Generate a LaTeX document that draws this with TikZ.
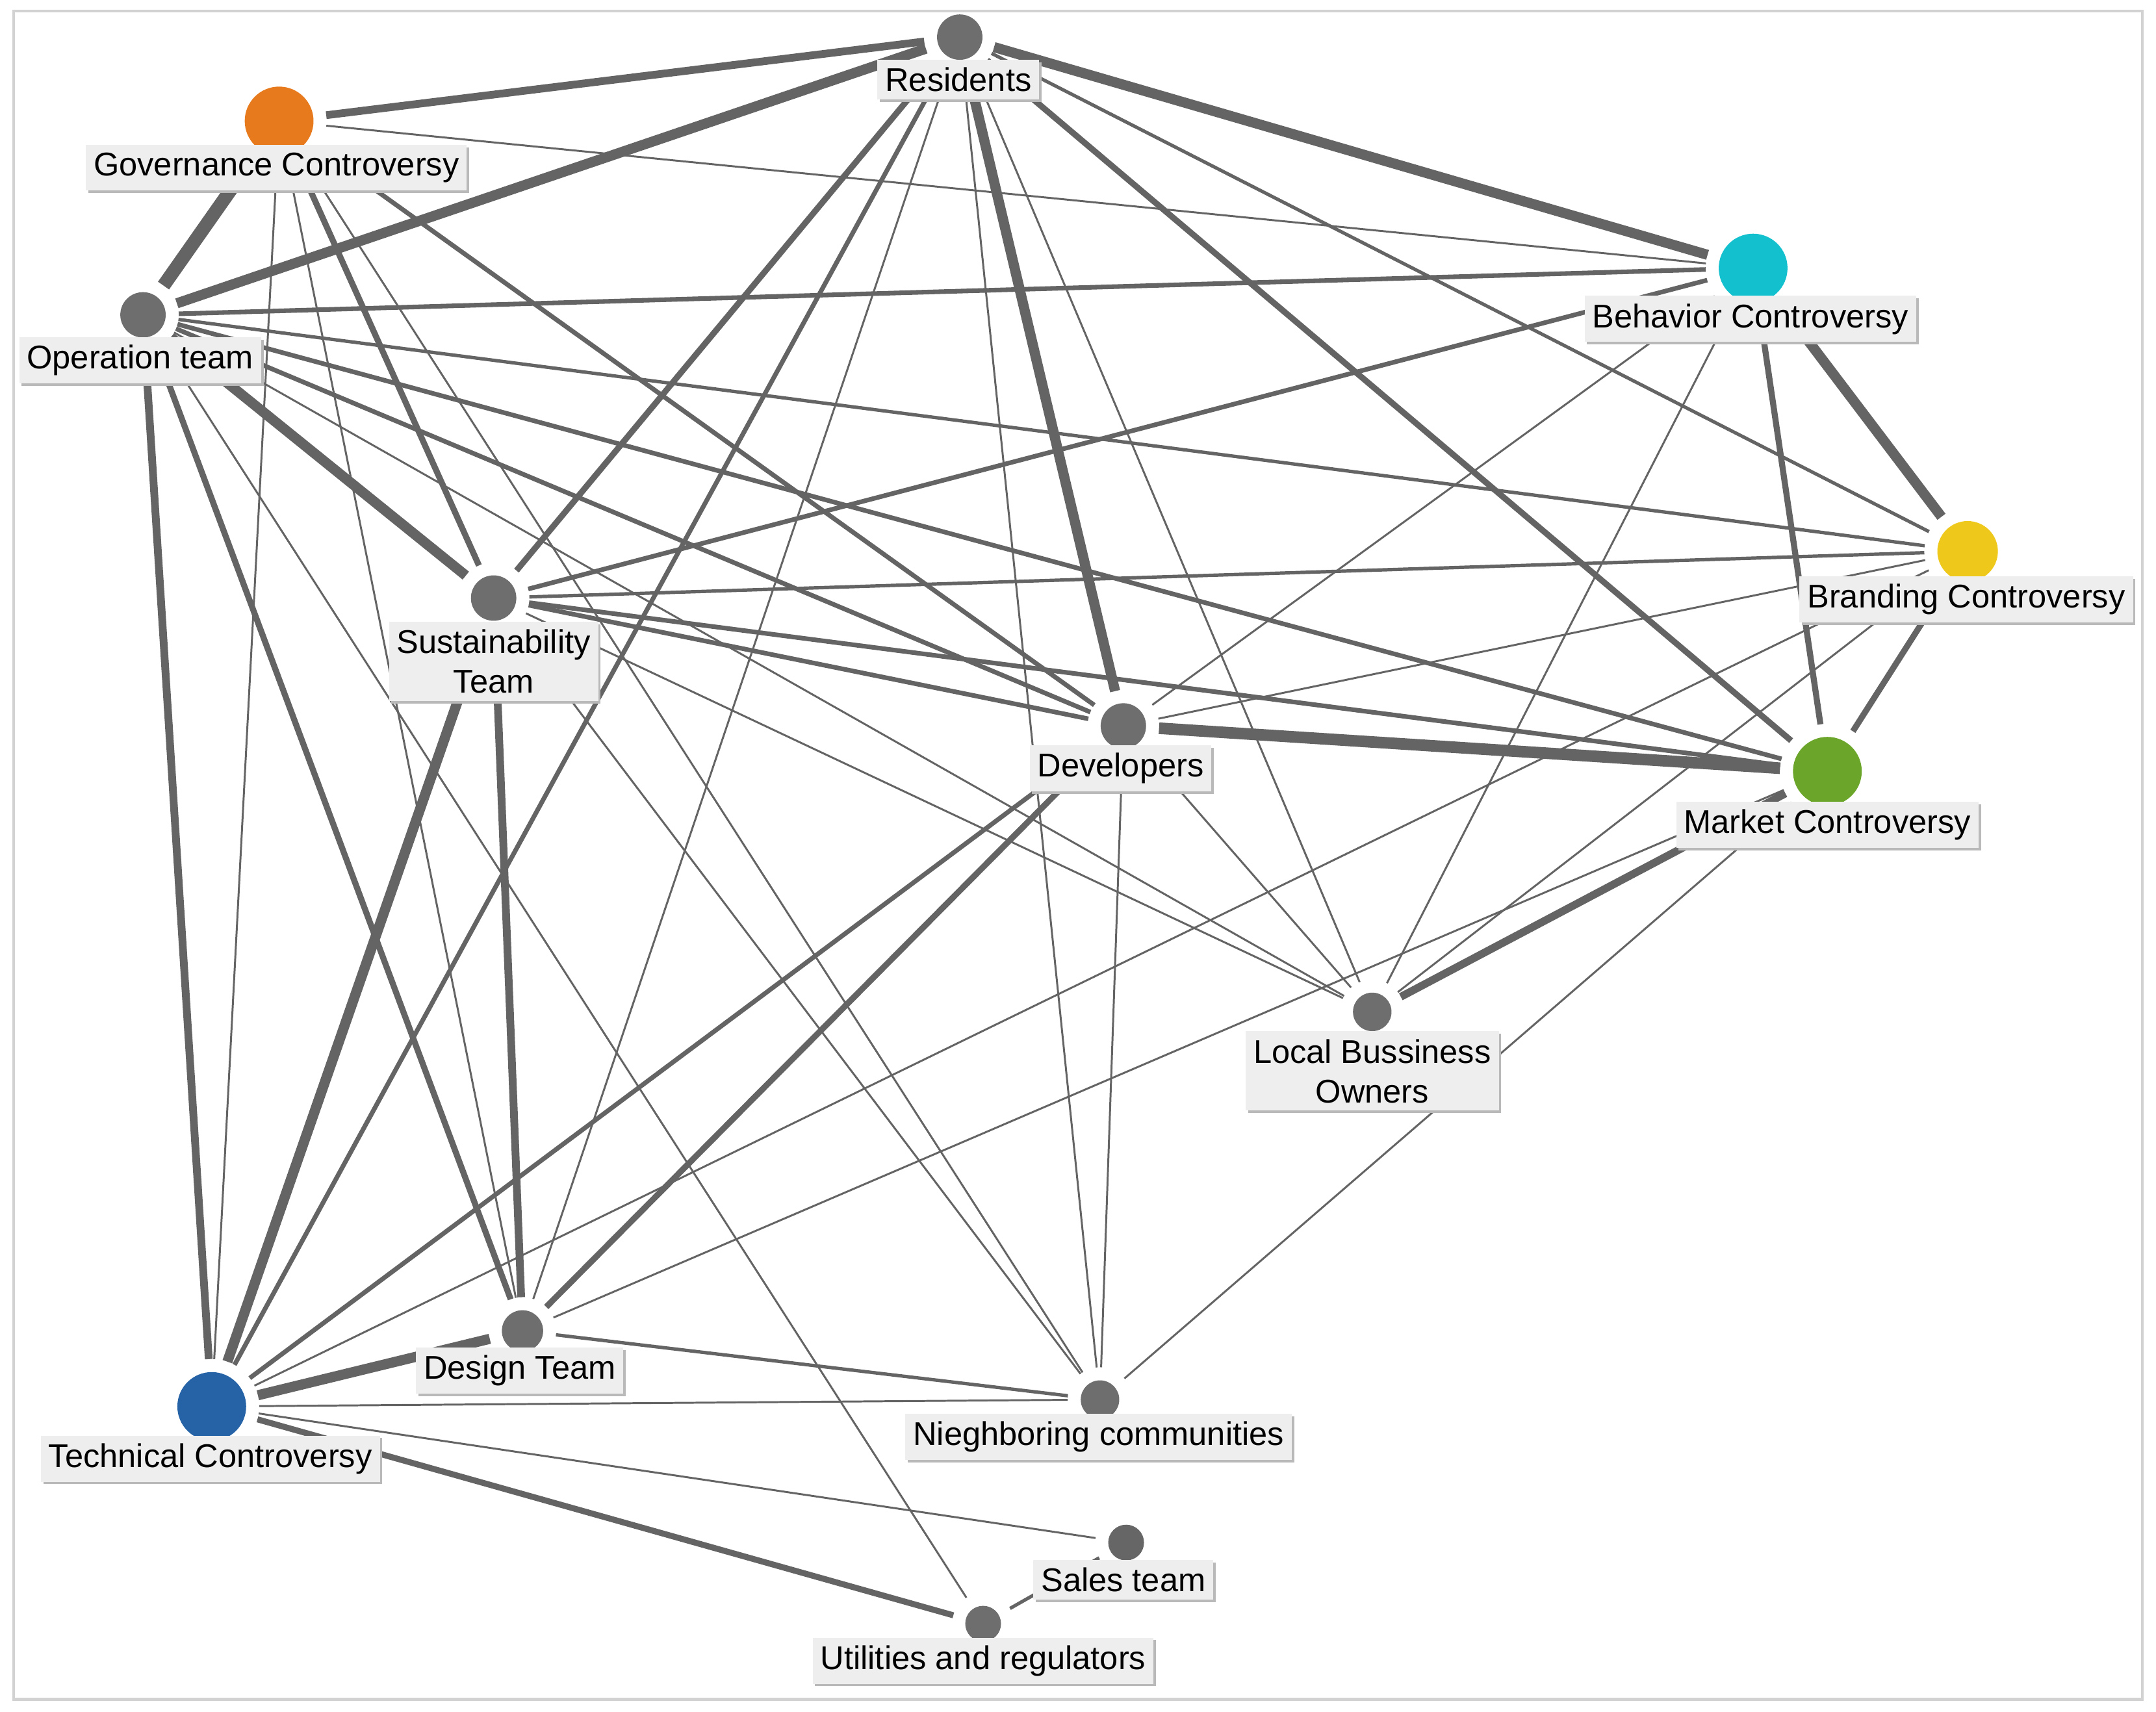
\documentclass[tikz,border=0pt]{standalone}
\usepackage{fontspec}
\setmainfont{Liberation Sans}
\usetikzlibrary{shadows}
\definecolor{eg}{HTML}{646464}
\definecolor{ng}{HTML}{6E6E6E}
\begin{document}
\begin{tikzpicture}[x=0.01cm,y=-0.01cm,
  dot/.style={circle,fill=ng,inner sep=0,minimum size=0.33cm},
  big/.style={circle,inner sep=0,minimum size=0.5cm},
  lab/.style={fill=gray!13,inner sep=1.6pt,align=center,font=\fontsize{6.8}{8.2}\selectfont,
     drop shadow={shadow xshift=0.5pt,shadow yshift=-0.5pt,fill=gray!55,opacity=1}},
  e/.style={draw=eg,shorten <=2.5pt,shorten >=2.5pt},
  t1/.style={e,line width=0.4pt},
  t2/.style={e,line width=0.7pt},
  t3/.style={e,line width=0.95pt},
  t4/.style={e,line width=1.25pt},
  t5/.style={e,line width=1.6pt},
  t6/.style={e,line width=2.1pt}]
\useasboundingbox (0,0) rectangle (1568,1245);
\draw[gray!35,line width=0.6pt] (10,8) rectangle (1558,1236);
% nodes
\node[dot] (res) at (698,27) {};
\node[big,fill={rgb,255:red,232;green,122;blue,30}] (gov) at (203,88) {};
\node[dot] (op) at (104,229) {};
\node[big,fill={rgb,255:red,18;green,192;blue,206}] (beh) at (1275,195) {};
\node[big,fill={rgb,255:red,239;green,200;blue,28},minimum size=0.44cm] (bra) at (1431,401) {};
\node[dot] (sus) at (359,435) {};
\node[dot] (dev) at (817,528) {};
\node[big,fill={rgb,255:red,107;green,166;blue,42}] (mar) at (1329,561) {};
\node[dot,minimum size=0.28cm] (loc) at (998,736) {};
\node[dot,minimum size=0.3cm] (des) at (380,968) {};
\node[dot,minimum size=0.28cm] (nei) at (800,1018) {};
\node[big,fill={rgb,255:red,37;green,99;blue,166}] (tec) at (154,1023) {};
\node[dot,fill=gray!80!black,minimum size=0.26cm] (sal) at (819,1122) {};
\node[dot,minimum size=0.26cm] (uti) at (715,1181) {};
% edges
\draw[t5] (res)--(gov); \draw[t6] (res)--(op); \draw[t6] (res)--(beh);
\draw[t4] (res)--(sus); \draw[t3] (res)--(tec); \draw[t1] (res)--(des);
\draw[t6] (res)--(dev); \draw[t1] (res)--(nei); \draw[t1] (res)--(loc);
\draw[t4] (res)--(mar); \draw[t2] (res)--(bra);
\draw[t1] (gov)--(beh); \draw[e,line width=2.8pt] (gov)--(op); \draw[t4] (gov)--(sus);
\draw[t3] (gov)--(dev); \draw[t1] (gov)--(tec); \draw[t1] (gov)--(des); \draw[t1] (gov)--(nei);
\draw[t3] (op)--(beh); \draw[t2] (op)--(bra); \draw[t3] (op)--(mar); \draw[t3] (op)--(dev);
\draw[t6] (op)--(sus); \draw[t1] (op)--(loc); \draw[t5] (op)--(tec); \draw[t4] (op)--(des);
\draw[t1] (op)--(uti);
\draw[t3] (beh)--(sus); \draw[t1] (beh)--(dev); \draw[t1] (beh)--(loc);
\draw[t6] (beh)--(bra); \draw[t4] (beh)--(mar);
\draw[t2] (bra)--(sus); \draw[t1] (bra)--(dev); \draw[t1] (bra)--(loc); \draw[t4] (bra)--(mar);
\draw[t1] (bra)--(tec);
\draw[t3] (sus)--(dev); \draw[t3] (sus)--(mar); \draw[t6] (sus)--(tec); \draw[t5] (sus)--(des);
\draw[t1] (sus)--(loc); \draw[t1] (sus)--(nei);
\draw[e,line width=2.4pt] (dev)--(mar); \draw[t3] (dev)--(tec); \draw[t4] (dev)--(des);
\draw[t1] (dev)--(nei); \draw[t1] (dev)--(loc);
\draw[t5] (mar)--(loc); \draw[t1] (mar)--(nei); \draw[t1] (mar)--(des);
\draw[t6] (des)--(tec); \draw[t2] (des)--(nei);
\draw[t1] (tec)--(nei); \draw[t1] (tec)--(sal); \draw[t4] (tec)--(uti);
\draw[t2] (sal)--(uti);
% labels
\node[lab] (lres) at (697,58) {Residents};
\node[lab] (lgov) at (201,122) {Governance Controversy};
\node[lab] (lop) at (102,262) {Operation team};
\node[lab] (lbeh) at (1273,232) {Behavior Controversy};
\node[lab] (lbra) at (1430,436) {Branding Controversy};
\node[lab] (lsus) at (359,481) {Sustainability\\Team};
\node[lab] (ldev) at (815,559) {Developers};
\node[lab] (lmar) at (1329,600) {Market Controversy};
\node[lab] (lloc) at (998,779) {Local Bussiness\\Owners};
\node[lab] (ldes) at (378,997) {Design Team};
\node[lab] (lnei) at (799,1045) {Nieghboring communities};
\node[lab] (ltec) at (153,1061) {Technical Controversy};
\node[lab] (lsal) at (817,1149) {Sales team};
\node[lab] (luti) at (715,1208) {Utilities and regulators};
\end{tikzpicture}
\end{document}
